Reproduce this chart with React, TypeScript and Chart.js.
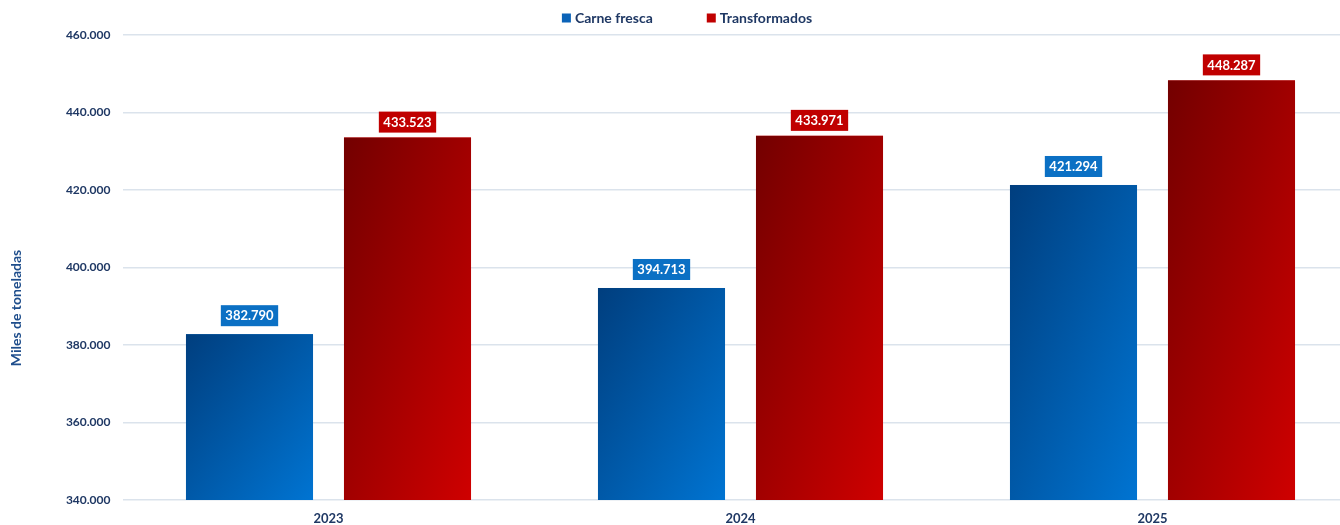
import React, { useEffect, useRef } from "react";
import { Chart, registerables } from "chart.js";

Chart.register(...registerables);

const categories = ["2023", "2024", "2025"];
const carneFresca = [382790, 394713, 421294];
const transformados = [433523, 433971, 448287];
const seriesNames = ["Carne fresca", "Transformados"];
const yMin = 340000;
const yMax = 460000;
const yStep = 20000;
const yTitle = "Miles de toneladas";

const FONT = "Lato, 'Open Sans', sans-serif";
const TEXT = "#1f3864";
const gradStops = [
  ["#003e7e", "#0074d2"],
  ["#730000", "#cf0000"],
];
const labelBg = ["#0b70c4", "#c00000"];
const labelGap = [8, 5];
const legendColors = ["#0b63b8", "#c00000"];

const fmt = (v: number) =>
  Math.round(v)
    .toString()
    .replace(/\B(?=(\d{3})+(?!\d))/g, ".");

const gradientPlugin = {
  id: "barGradient",
  afterDatasetDraw(chart: any, args: any) {
    const ctx = chart.ctx;
    const area = chart.chartArea;
    const meta = args.meta;
    const stops = gradStops[args.index];
    ctx.save();
    meta.data.forEach((bar: any) => {
      const w = bar.width;
      const left = bar.x - w / 2;
      const top = Math.max(Math.min(bar.y, bar.base), area.top);
      const bottom = Math.min(Math.max(bar.y, bar.base), area.bottom);
      const h = bottom - top;
      if (!(h > 0)) return;
      // diagonal gradient in the bar's own unit box (corner to corner)
      const t = (2 * w * h) / (w * w + h * h);
      const g = ctx.createLinearGradient(left, top, left + h * t, top + w * t);
      g.addColorStop(0, stops[0]);
      g.addColorStop(1, stops[1]);
      ctx.fillStyle = g;
      ctx.fillRect(left, top, w, h);
    });
    ctx.restore();
  },
};

const labelPlugin = {
  id: "valueBoxes",
  afterDatasetsDraw(chart: any) {
    const ctx = chart.ctx;
    ctx.save();
    ctx.font = `bold 13px ${FONT}`;
    ctx.textAlign = "center";
    ctx.textBaseline = "middle";
    chart.data.datasets.forEach((ds: any, di: number) => {
      const meta = chart.getDatasetMeta(di);
      meta.data.forEach((bar: any, i: number) => {
        const text = fmt(ds.data[i]);
        const tw = ctx.measureText(text).width;
        const bw = tw + 9;
        const bh = 21;
        const bottom = bar.y - labelGap[di];
        ctx.fillStyle = labelBg[di];
        ctx.fillRect(bar.x - bw / 2, bottom - bh, bw, bh);
        ctx.fillStyle = "#ffffff";
        ctx.fillText(text, bar.x, bottom - bh / 2 + 0.5);
      });
    });
    ctx.restore();
  },
};

const legendPlugin = {
  id: "customLegend",
  afterDraw(chart: any) {
    const ctx = chart.ctx;
    ctx.save();
    ctx.font = `bold 14px ${FONT}`;
    ctx.textBaseline = "middle";
    ctx.textAlign = "left";
    const box = 9;
    const gapBox = 4;
    const gapItem = 54;
    const widths = seriesNames.map((n) => ctx.measureText(n).width);
    const total =
      widths.reduce((a, b) => a + b, 0) + seriesNames.length * (box + gapBox) + gapItem * (seriesNames.length - 1);
    let x = 687 - total / 2;
    const y = 18;
    seriesNames.forEach((n, i) => {
      ctx.fillStyle = legendColors[i];
      ctx.fillRect(x, y - box / 2, box, box);
      x += box + gapBox;
      ctx.fillStyle = TEXT;
      ctx.fillText(n, x, y);
      x += widths[i] + gapItem;
    });
    ctx.translate(16, 308);
    ctx.rotate(-Math.PI / 2);
    ctx.textAlign = "center";
    ctx.fillStyle = "#1f4e8c";
    ctx.font = `bold 14px ${FONT}`;
    ctx.fillText(yTitle, 0, 0);
    ctx.restore();
  },
};

export default function App() {
  const ref = useRef<HTMLCanvasElement | null>(null);
  useEffect(() => {
    if (!ref.current) return;
    const chart = new Chart(ref.current, {
      type: "bar",
      data: {
        labels: categories,
        datasets: [
          {
            label: seriesNames[0],
            data: carneFresca,
            backgroundColor: gradStops[0][1],
            barPercentage: 0.804,
            categoryPercentage: 0.767,
          },
          {
            label: seriesNames[1],
            data: transformados,
            backgroundColor: gradStops[1][1],
            barPercentage: 0.804,
            categoryPercentage: 0.767,
          },
        ],
      },
      options: {
        animation: false,
        responsive: true,
        maintainAspectRatio: false,
        layout: { padding: { top: 35, right: 1.5, left: 0, bottom: 0 } },
        plugins: {
          legend: { display: false },
          tooltip: { enabled: false },
        },
        scales: {
          x: {
            grid: { display: false, drawTicks: false },
            border: { display: false },
            ticks: {
              color: TEXT,
              font: { family: FONT, size: 13, weight: "bold" },
              padding: 11,
            },
            afterFit: (s: any) => {
              s.height = 25;
            },
          },
          y: {
            min: yMin,
            max: yMax,
            grid: { color: "#dbe3ec", lineWidth: 1.5, drawTicks: false },
            border: { display: false },
            ticks: {
              stepSize: yStep,
              color: TEXT,
              font: { family: FONT, size: 12, weight: "bold" },
              padding: 12,
              callback: (v: any) => fmt(Number(v)),
            },
            afterFit: (s: any) => {
              s.width = 122.5;
            },
          },
        },
      },
      plugins: [gradientPlugin, labelPlugin, legendPlugin],
    });
    return () => chart.destroy();
  }, []);
  return (
    <div
      style={{
        position: "fixed",
        left: 0,
        top: 0,
        width: 1340,
        height: 525,
        overflow: "hidden",
        background: "#ffffff",
      }}
    >
      <div style={{ position: "relative", width: 1360, height: 525 }}>
        <canvas ref={ref} />
      </div>
    </div>
  );
}
